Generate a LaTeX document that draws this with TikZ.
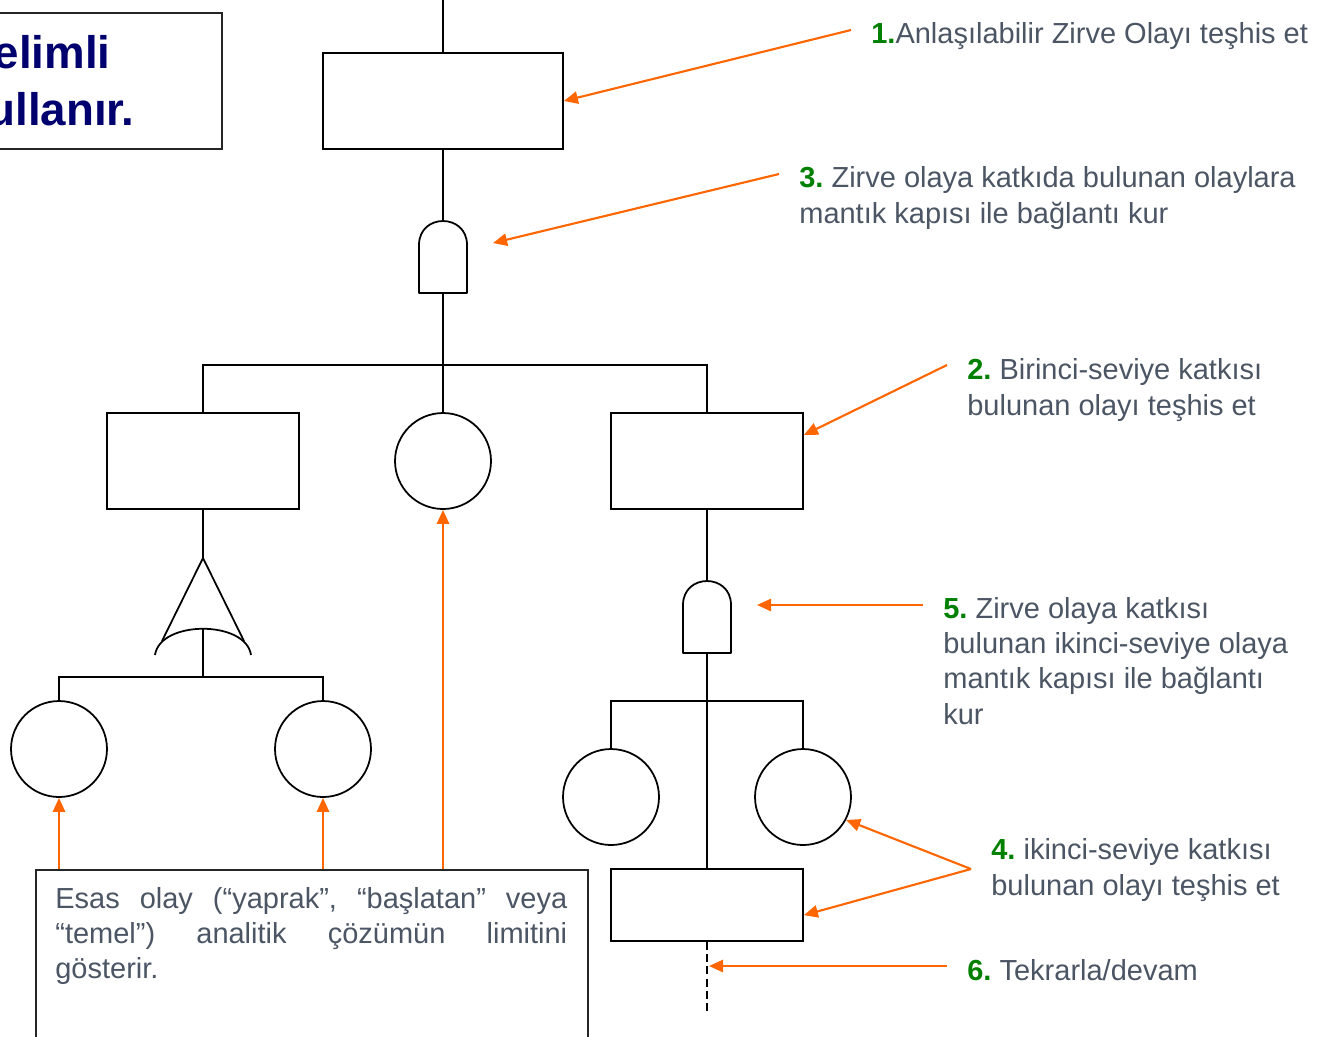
\documentclass[tikz,border=0pt]{standalone}
\usepackage{fontspec}
\setmainfont{Liberation Sans}
\usetikzlibrary{arrows.meta,positioning}

\definecolor{notegray}{RGB}{75,85,100}
\definecolor{stepgreen}{RGB}{0,128,0}
\definecolor{pointorange}{RGB}{255,102,0}
\definecolor{titlenavy}{RGB}{0,0,110}
\newcommand{\stepno}[1]{\textbf{\color{stepgreen}#1}}
\frenchspacing

\begin{document}
\begin{tikzpicture}[
    x=0.02cm, y=-0.02cm,
    event/.style={rectangle, draw=black, line width=1pt, inner sep=0pt, minimum width=3.84cm, minimum height=1.92cm},
    basic/.style={circle, draw=black, line width=1pt, inner sep=0pt, minimum size=1.92cm},
    link/.style={line width=1pt},
    gate/.style={line width=1pt, line join=round},
    pointer/.style={-{Triangle[length=8pt,width=7pt]}, draw=pointorange, line width=1.2pt},
    note/.style={text=notegray, font=\fontsize{16.5}{20}\selectfont, align=left, inner sep=0pt, anchor=base west},
    headline/.style={text=titlenavy, font=\fontsize{26}{32}\selectfont\bfseries, inner sep=0pt, anchor=base east}
]
\useasboundingbox (0,0) rectangle (1321,1036);
\clip (0,0) rectangle (1321,1036);

% title box, cut at the left edge
\node[draw=black!85, line width=1pt, inner sep=0pt, minimum width=4.66cm, minimum height=2.72cm, anchor=north east] (titlebox) at (223,12) {};
\node[headline] (title1) at (111,68) {elimli};
\node[headline] (title2) at (135,125) {ullanır.};

% events
\node[event, minimum width=4.8cm] (topev) at (443,101) {};
\node[event] (lev) at (203,461) {};
\node[basic] (mid) at (443,461) {};
\node[event] (rev) at (707,461) {};
\node[basic] (e1) at (59,749) {};
\node[basic] (e2) at (323,749) {};
\node[basic] (e3) at (611,797) {};
\node[basic] (e4) at (803,797) {};
\node[event, minimum height=1.44cm] (sev) at (707,905) {};

% junctions
\coordinate (topin) at (443,0);
\coordinate (g1t) at (443,221);
\coordinate (g1b) at (443,293);
\coordinate (bar1) at (443,365);
\coordinate (orapex) at (203,558);
\coordinate (orbase) at (203,629);
\coordinate (bar2) at (203,677);
\coordinate (g2t) at (707,581);
\coordinate (g2b) at (707,653);
\coordinate (bar3) at (707,701);
\coordinate (cont) at (707,1013);

% gates
\draw[gate] (419,293) -- (419,245) .. controls (419,213) and (467,213) .. (467,245) -- (467,293) -- cycle;
\draw[gate] (683,653) -- (683,605) .. controls (683,573) and (731,573) .. (731,605) -- (731,653) -- cycle;
\draw[gate] (155,655) .. controls (160,620) and (246,620) .. (251,655);
\draw[gate] (162,641) -- (orapex) -- (244,641);

% tree lines
\draw[link] (topin) -- (topev.north);
\draw[link] (topev.south) -- (g1t);
\draw[link] (g1b) -- (mid.north);
\draw[link] (lev.north) |- (bar1) -| (rev.north);
\draw[link] (lev.south) -- (orapex);
\draw[link] (orbase) -- (bar2);
\draw[link] (e1.north) |- (bar2) -| (e2.north);
\draw[link] (rev.south) -- (g2t);
\draw[link] (g2b) -- (sev.north);
\draw[link] (e3.north) |- (bar3) -| (e4.north);
\draw[link, dash pattern=on 4.5pt off 2.5pt] (sev.south) -- (cont);

% basic event note
\node[draw=black!85, line width=1pt, inner sep=0pt, minimum width=11.04cm, minimum height=4cm, anchor=north west] (basebox) at (35,869) {};
\node[note, text width=10.24cm, align=justify] (basetext) at (55,908)
    {\tolerance=10000\hyphenpenalty=10000 Esas olay (“yaprak”, “başlatan” veya\linebreak “temel”) analitik çözümün limitini\linebreak gösterir.};

% step labels (base = last line)
\node[note] (t1) at (871,43) {\stepno{1.}Anlaşılabilir Zirve Olayı teşhis et};
\node[note] (t3) at (799,223) {\stepno{3.} Zirve olaya katkıda bulunan olaylara\\mantık kapısı ile bağlantı kur};
\node[note] (t2) at (967,415) {\stepno{2.} Birinci-seviye katkısı\\bulunan olayı teşhis et};
\node[note] (t5) at (943,724) {\stepno{5.} Zirve olaya katkısı\\bulunan ikinci-seviye olaya\\mantık kapısı ile bağlantı\\kur};
\node[note] (t4) at (991,895) {\stepno{4.} ikinci-seviye katkısı\\bulunan olayı teşhis et};
\node[note] (t6) at (967,980) {\stepno{6.} Tekrarla/devam};

\coordinate (s1) at (851,30);
\coordinate (s3) at (779,174);
\coordinate (s2) at (947,365);
\coordinate (s5) at (923,605);
\coordinate (s4) at (971,869);
\coordinate (s6) at (947,966);
\coordinate (g1mark) at (493,243);
\coordinate (g2mark) at (757,605);
\coordinate (contmark) at (709,966);

% pointers
\draw[pointer] (s1) -- (topev.east);
\draw[pointer] (s3) -- (g1mark);
\draw[pointer] (s2) -- (rev.15);
\draw[pointer] (s5) -- (g2mark);
\draw[pointer] (s4) -- (e4.-28);
\draw[pointer] (s4) -- (sev.-6);
\draw[pointer] (s6) -- (contmark);
\draw[pointer] (basebox.north -| e1) -- (e1.south);
\draw[pointer] (basebox.north -| e2) -- (e2.south);
\draw[pointer] (basebox.north -| mid) -- (mid.south);
\end{tikzpicture}
\end{document}
